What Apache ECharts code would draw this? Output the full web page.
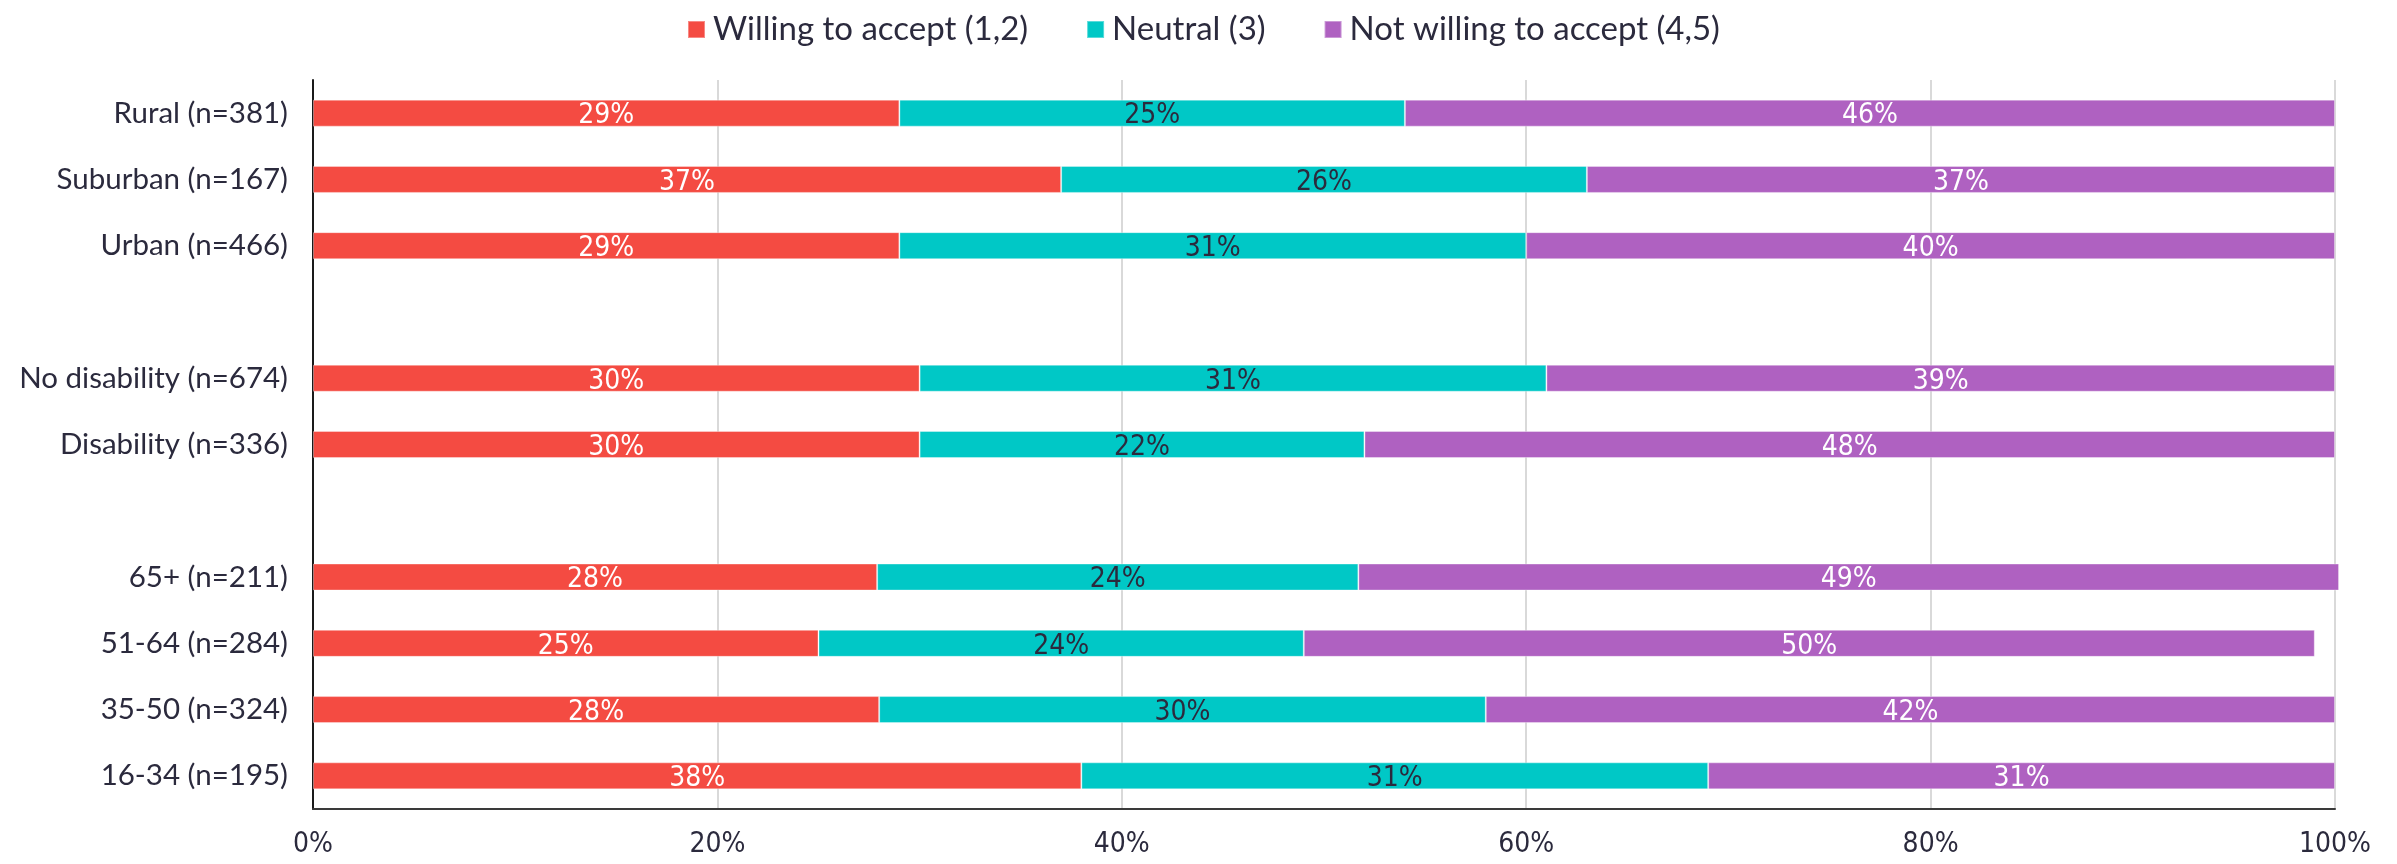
<!DOCTYPE html>
<html>
<head>
<meta charset="utf-8">
<script src="https://cdn.jsdelivr.net/npm/echarts@6/dist/echarts.min.js"></script>
<style>
  html, body { margin: 0; padding: 0; background: #fff; }
  #chart { width: 2397px; height: 864px; }
</style>
</head>
<body>
<div id="chart"></div>
<script>
// groups, with blank rows as spacers between them
const categories = ['Rural (n=381)', 'Suburban (n=167)', 'Urban (n=466)', ' ',
  'No disability (n=674)', 'Disability (n=336)', '  ',
  '65+ (n=211)', '51-64 (n=284)', '35-50 (n=324)', '16-34 (n=195)'];
const willing = [29, 37, 29, null, 30, 30, null, 27.9, 25, 28, 38];
const neutral = [25, 26, 31, null, 31, 22, null, 23.8, 24, 30, 31];
const notWilling = [46, 37, 40, null, 39, 48, null, 48.5, 50, 42, 31];
const xTicks = [0, 20, 40, 60, 80, 100];

const textColor = '#2b2a3d';
const labelFont = 'Lato';
const valueFont = '"Liberation Sans Narrow", "DejaVu Sans Condensed", sans-serif';

function pct(p) {
  return p.value == null ? '' : Math.round(p.value) + '%';
}

function barSeries(name, data, color, lblColor) {
  return {
    name: name,
    type: 'bar',
    stack: 'all',
    data: data,
    barWidth: 27,
    clip: false,
    itemStyle: { color: color, borderColor: 'rgba(255,255,255,0.35)', borderWidth: 1 },
    label: {
      show: true,
      position: 'inside',
      formatter: pct,
      color: lblColor,
      fontFamily: valueFont,
      fontSize: 28,
      offset: [0, 3]
    }
  };
}

let myChart = echarts.init(document.getElementById('chart'));
let option = {
  animation: false,
  backgroundColor: '#fff',
  legend: {
    top: 8,
    left: 682,
    itemWidth: 17,
    itemHeight: 17,
    itemGap: 58,
    icon: 'rect',
    textStyle: { color: textColor, fontFamily: labelFont, fontSize: 33, padding: [0, 0, 0, 3] },
    data: ['Willing to accept (1,2)', 'Neutral (3)', 'Not willing to accept (4,5)']
  },
  grid: { left: 313, right: 62, top: 80, bottom: 55 },
  xAxis: {
    type: 'value',
    min: 0,
    max: 100,
    interval: 20,
    axisLine: { show: true, lineStyle: { color: '#3a3a3a', width: 2 } },
    axisTick: { show: false },
    splitLine: { lineStyle: { color: '#d9d9d9', width: 2 } },
    axisLabel: {
      margin: 22,
      color: textColor,
      fontFamily: valueFont,
      fontSize: 28,
      formatter: function (v) { return xTicks.indexOf(v) >= 0 ? v + '%' : ''; }
    }
  },
  yAxis: {
    type: 'category',
    inverse: true,
    data: categories,
    axisLine: { show: true, lineStyle: { color: '#1a1a1a', width: 2 } },
    axisTick: { show: false },
    axisLabel: { margin: 25, color: textColor, fontFamily: labelFont, fontSize: 29.5 }
  },
  series: [
    barSeries('Willing to accept (1,2)', willing, '#f44b42', '#ffffff'),
    barSeries('Neutral (3)', neutral, '#00c8c6', textColor),
    barSeries('Not willing to accept (4,5)', notWilling, '#af61c1', '#ffffff')
  ]
};
myChart.setOption(option);
</script>
</body>
</html>
